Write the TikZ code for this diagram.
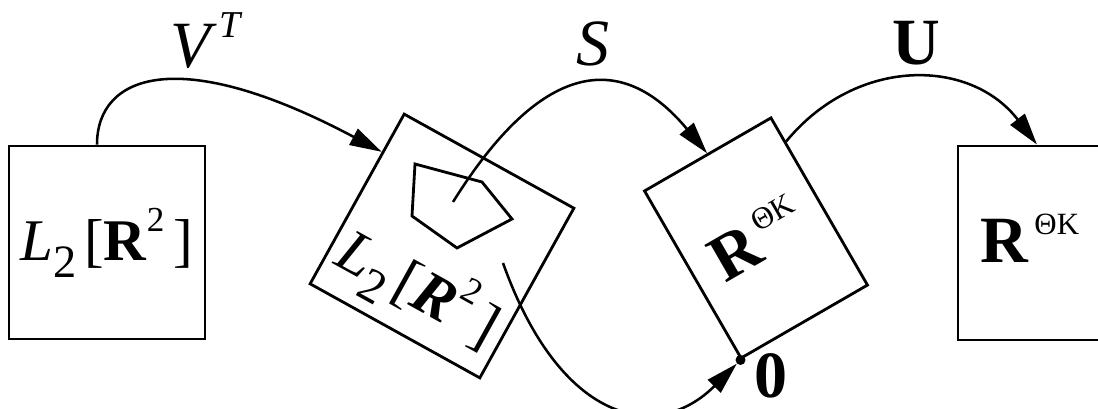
\documentclass[tikz,border=0pt]{standalone}
\usepackage{fontspec}
\setmainfont{Liberation Serif}
\usetikzlibrary{arrows.meta, calc}
\newcommand{\ltwo}[1]{\textit{L}\raisebox{-0.28em}{\fontsize{33}{33}\selectfont 2}\hspace{0.12em}[#1\raisebox{0.5em}{\fontsize{25}{25}\selectfont 2}\hspace{0.15em}]}
\newcommand{\rtk}{\textbf{R}\hspace{0.08em}\raisebox{0.42em}{\fontsize{22}{22}\selectfont ΘK}}
\tikzset{
  spacebox/.style = {draw=black, line width=2pt, inner sep=0pt,
                     minimum width=49mm, minimum height=48.5mm},
  boxtxt/.style   = {font=\fontsize{42}{42}\selectfont, inner sep=0pt},
  rtxt/.style     = {font=\fontsize{47}{47}\selectfont, inner sep=0pt},
  maplbl/.style   = {font=\fontsize{47}{47}\selectfont, inner sep=0pt},
  flow/.style     = {line width=1.8pt, -{Triangle[length=8mm, width=4.5mm]}},
}

\begin{document}
\begin{tikzpicture}
        \useasboundingbox (0,0) rectangle (27.45,-10.225);
        \clip (0,0) rectangle (27.45,-10.225);

        \node[spacebox, boxtxt, minimum height=48.25mm] (sig) at (2.675,-6.0625) {\ltwo{\textbf{R}}};
        \node[spacebox, minimum width=48.5mm, rotate=-29] (ksig) at (11.05,-6.15) {};
        \node[boxtxt, rotate=-29, scale=1.04] (ksiglbl) at ($(ksig.center)+(-119:1.23)$)
             {\ltwo{\textbf{\textit{R}}}};
        \draw[line width=2pt] (10.375,-4.1) -- (12.05,-4.55) -- (12.8,-5.475)
             -- (11.425,-6.2) -- (10.3,-5.4) -- cycle;
        \coordinate (ptin) at (11.325,-5.05);
        \coordinate (ptout) at (12.575,-6.575);

        \node[spacebox, rtxt, minimum width=36.5mm, minimum height=48.25mm, rotate=30]
             (coef) at (18.9,-5.95) {\rtk};
        \node[circle, fill=black, inner sep=0pt, minimum size=2.5mm] (zero) at (coef.south west) {};

        \node[spacebox] (img) at (26.4,-6.075) {};
        \node[rtxt] (imglbl) at (25.75,-5.95) {\rtk};

        \draw[flow] ($(sig.north)+(-0.25,0)$) .. controls +(0,1.75) and +(-5.075,2.7)
             .. ($(ksig.north west)!0.23!(ksig.south west)$);
        \draw[flow] (ptin) .. controls +(2.19,3.51) and +(-2.16,2.6) .. (coef.north);
        \draw[flow] ($(coef.north east)!0.15!(coef.south east)$) .. controls +(1.75,2.125)
             and +(-1.675,2.175) .. ($(img.north)+(-0.475,0)$);
        \draw[flow] (ptout) .. controls +(1.425,-4.0) and +(-2.1,-2.1) .. (zero);

        \node[maplbl] (vtlbl) at (5.16,-1.01)
             {\textit{V}\hspace{0.04em}\raisebox{0.45em}{\fontsize{27}{27}\selectfont\textit{T}}};
        \node[maplbl] (slbl) at (14.825,-1.1) {\textit{S}};
        \node[maplbl] (ulbl) at (22.9,-1.075) {\textbf{U}};
        \node[maplbl] (zerolbl) at (19.275,-9.4) {\textbf{0}};
    \end{tikzpicture}
\end{document}
